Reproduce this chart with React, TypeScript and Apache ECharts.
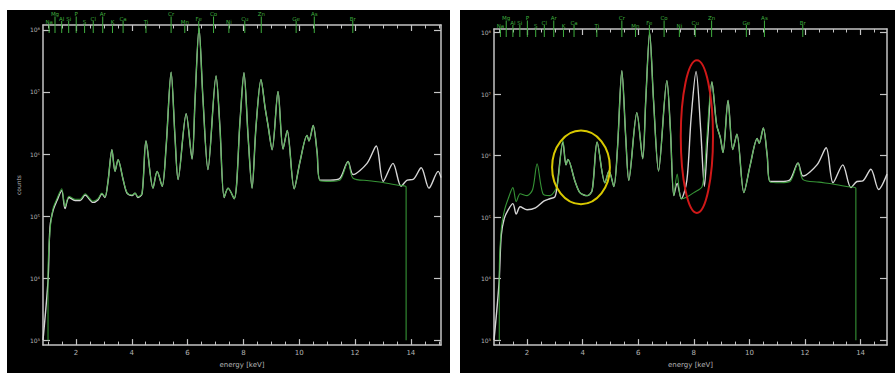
import React, { useEffect, useRef } from 'react';
import * as echarts from 'echarts';

// ---------- data (energy keV, log10 counts) ----------
const elementNames = ['Na','Mg','Al','Si','P','S','Cl','Ar','K','Ca','Ti','Cr','Mn','Fe','Co','Ni','Cu','Zn','Ge','As','Br'];
const elementEnergies = [1.04,1.25,1.49,1.74,2.01,2.31,2.62,2.96,3.31,3.69,4.51,5.41,5.90,6.40,6.93,7.48,8.05,8.64,9.89,10.54,11.92];
const elementLevels = [2,0,1,1,0,2,1,0,2,1,2,0,2,1,0,2,1,0,1,0,1];

const xMajorTicks = [2,4,6,8,10,12,14];
const xMinorTicks = [1,1.5,2.5,3,3.5,4.5,5,5.5,6.5,7,7.5,8.5,9,9.5,10.5,11,11.5,12.5,13,13.5,14.5,15];
const yDecades = [3,4,5,6,7,8];
const supDigits = ['⁰','¹','²','³','⁴','⁵','⁶','⁷','⁸','⁹'];

const leftMeasured: number[][] = [
  [0.82,3.0],[1.0,3.96],[1.07,4.82],[1.18,5.09],[1.32,5.25],[1.49,5.41],[1.61,5.12],[1.75,5.30],[1.97,5.25],[2.15,5.25],[2.33,5.34],[2.61,5.22],[2.79,5.26],[2.93,5.36],[3.04,5.30],[3.15,5.56],[3.29,6.07],[3.40,5.72],[3.51,5.91],[3.69,5.59],[3.83,5.37],[4.01,5.33],[4.12,5.37],[4.22,5.30],[4.37,5.36],[4.51,6.21],[4.76,5.45],[4.91,5.72],[5.09,5.48],[5.23,6.11],[5.41,7.32],[5.55,6.27],[5.66,5.59],[5.95,6.65],[6.16,5.92],[6.27,6.90],[6.41,8.03],[6.55,6.90],[6.73,5.75],[7.02,7.26],[7.16,6.43],[7.31,5.30],[7.45,5.45],[7.67,5.28],[7.88,6.54],[8.02,7.31],[8.17,6.27],[8.31,5.45],[8.45,6.43],[8.63,7.20],[8.78,6.74],[8.88,6.47],[9.03,6.07],[9.24,7.01],[9.42,6.08],[9.57,6.38],[9.82,5.44],[10.03,5.88],[10.28,6.30],[10.35,6.21],[10.50,6.46],[10.64,6.03],[10.75,5.58],[11.11,5.58],[11.46,5.61],[11.75,5.88],[11.93,5.67],[12.43,5.85],[12.76,6.13],[13.01,5.56],[13.36,5.85],[13.65,5.48],[13.87,5.58],[14.08,5.59],[14.37,5.78],[14.65,5.45],[14.98,5.72],[15.08,5.62]
];
const leftFit: number[][] = [
  [1.0,3.0],[1.0,4.1],[1.07,4.75],[1.18,5.12],[1.32,5.28],[1.49,5.44],[1.61,5.15],[1.75,5.32],[1.97,5.27],[2.15,5.27],[2.33,5.36],[2.61,5.24],[2.79,5.28],[2.93,5.37],[3.04,5.31],[3.15,5.56],[3.29,6.07],[3.40,5.72],[3.51,5.91],[3.69,5.59],[3.83,5.38],[4.01,5.34],[4.12,5.37],[4.22,5.31],[4.37,5.37],[4.51,6.21],[4.76,5.45],[4.91,5.72],[5.09,5.48],[5.23,6.11],[5.41,7.32],[5.55,6.27],[5.66,5.59],[5.95,6.65],[6.16,5.92],[6.27,6.90],[6.41,8.03],[6.55,6.90],[6.73,5.75],[7.02,7.26],[7.16,6.43],[7.31,5.30],[7.45,5.45],[7.67,5.28],[7.88,6.54],[8.02,7.31],[8.17,6.27],[8.31,5.45],[8.45,6.43],[8.63,7.20],[8.78,6.74],[8.88,6.47],[9.03,6.07],[9.24,7.01],[9.42,6.08],[9.57,6.38],[9.82,5.44],[10.03,5.88],[10.28,6.30],[10.35,6.21],[10.50,6.46],[10.64,6.03],[10.75,5.57],[11.11,5.56],[11.46,5.58],[11.75,5.88],[11.93,5.61],[12.5,5.57],[13.0,5.54],[13.5,5.50],[13.83,5.47],[13.83,3.0]
];
const rightMeasured: number[][] = [
  [0.81,3.0],[0.99,3.92],[1.07,4.7],[1.18,4.98],[1.32,5.12],[1.49,5.22],[1.61,5.05],[1.75,5.17],[2.0,5.12],[2.3,5.15],[2.6,5.26],[2.82,5.30],[3.0,5.33],[3.08,5.5],[3.29,6.22],[3.40,5.85],[3.47,5.94],[3.72,5.59],[3.90,5.40],[4.16,5.35],[4.34,5.43],[4.52,6.22],[4.80,5.56],[4.95,5.75],[5.12,5.50],[5.25,6.1],[5.41,7.38],[5.55,6.3],[5.66,5.6],[5.95,6.7],[6.16,5.95],[6.27,6.9],[6.41,8.0],[6.55,6.9],[6.73,5.75],[7.03,7.22],[7.16,6.4],[7.28,5.35],[7.40,5.55],[7.55,5.3],[7.75,5.6],[7.9,6.6],[8.08,7.37],[8.25,6.4],[8.38,5.5],[8.5,6.3],[8.65,7.2],[8.82,6.5],[8.95,6.3],[9.05,6.05],[9.23,6.9],[9.4,6.1],[9.55,6.35],[9.8,5.4],[10.03,5.85],[10.28,6.28],[10.35,6.2],[10.5,6.45],[10.64,6.0],[10.75,5.58],[11.11,5.58],[11.46,5.61],[11.75,5.88],[11.93,5.67],[12.43,5.85],[12.76,6.13],[13.01,5.56],[13.36,5.85],[13.65,5.48],[13.87,5.58],[14.08,5.59],[14.37,5.78],[14.65,5.45],[14.95,5.7]
];
const rightFit: number[][] = [
  [1.0,3.0],[1.0,4.1],[1.07,4.8],[1.18,5.1],[1.32,5.3],[1.49,5.48],[1.61,5.25],[1.75,5.38],[2.0,5.35],[2.2,5.45],[2.36,5.87],[2.57,5.38],[2.82,5.35],[3.0,5.43],[3.1,5.55],[3.29,6.25],[3.40,5.85],[3.47,5.94],[3.72,5.59],[3.90,5.40],[4.16,5.35],[4.34,5.43],[4.52,6.22],[4.80,5.56],[4.95,5.75],[5.12,5.50],[5.25,6.1],[5.41,7.38],[5.55,6.3],[5.66,5.6],[5.95,6.7],[6.16,5.95],[6.27,6.9],[6.41,8.0],[6.55,6.9],[6.73,5.75],[7.03,7.22],[7.16,6.4],[7.28,5.35],[7.40,5.70],[7.55,5.3],[7.75,5.33],[8.0,5.40],[8.3,5.5],[8.45,6.2],[8.65,7.2],[8.82,6.5],[8.95,6.3],[9.05,6.05],[9.23,6.9],[9.4,6.1],[9.55,6.35],[9.8,5.4],[10.03,5.85],[10.28,6.28],[10.35,6.2],[10.5,6.45],[10.64,6.0],[10.75,5.57],[11.11,5.56],[11.46,5.58],[11.75,5.88],[11.93,5.61],[12.5,5.57],[13.0,5.54],[13.5,5.50],[13.83,5.47],[13.83,3.0]
];
// annotation ellipses on the right panel: [centre keV, centre log, half-width keV, half-height decades]
const yellowRing = [3.94, 5.81, 1.04, 0.60];
const redRing = [8.11, 6.31, 0.58, 1.24];

const panels = [
  { left: 43, top: 25, width: 398, height: 328, xMin: 0.82, xMax: 15.08, yMin: 2.92, yMax: 8.08 },
  { left: 494, top: 29, width: 393, height: 324, xMin: 0.81, xMax: 14.95, yMin: 2.92, yMax: 8.06 },
];

const AXIS = '#c4c4c4';
const LABEL = '#b4b4b4';
const GREEN = '#3fae3f';
const WHITE = '#d6d6d6';
const FONT = 'DejaVu Sans';
const LEVEL_OFFSET = [11, 6.5, 3];

export default function App() {
  const ref = useRef<HTMLDivElement>(null);
  useEffect(() => {
    if (!ref.current) return;
    const chart = echarts.init(ref.current, undefined, { renderer: 'svg' });
    const grid: any[] = [];
    const xAxis: any[] = [];
    const yAxis: any[] = [];
    const series: any[] = [];
    panels.forEach((p, g) => {
      grid.push({ left: p.left, top: p.top, width: p.width, height: p.height, containLabel: false });
      const xBase = { type: 'value', gridIndex: g, min: p.xMin, max: p.xMax, splitLine: { show: false } };
      xAxis.push({ ...xBase, position: 'bottom', axisLine: { show: true, lineStyle: { color: AXIS, width: 1.5 } },
        axisTick: { show: true, inside: true, length: 6, customValues: xMajorTicks, lineStyle: { color: AXIS, width: 1.2 } },
        axisLabel: { show: true, customValues: xMajorTicks, color: LABEL, fontSize: 7, fontFamily: FONT, margin: 4 },
        name: 'energy [keV]', nameLocation: 'middle', nameGap: 13, nameTextStyle: { color: LABEL, fontSize: 7, fontFamily: FONT } });
      xAxis.push({ ...xBase, position: 'bottom', axisLine: { show: false },
        axisTick: { show: true, inside: true, length: 3.5, customValues: xMinorTicks, lineStyle: { color: AXIS, width: 1 } },
        axisLabel: { show: false } });
      xAxis.push({ ...xBase, position: 'top', axisLine: { show: true, lineStyle: { color: AXIS, width: 1.5 } },
        axisTick: { show: true, inside: true, length: 6, customValues: xMajorTicks, lineStyle: { color: AXIS, width: 1.2 } },
        axisLabel: { show: false } });
      xAxis.push({ ...xBase, position: 'top', axisLine: { show: false },
        axisTick: { show: true, inside: true, length: 3.5, customValues: xMinorTicks, lineStyle: { color: AXIS, width: 1 } },
        axisLabel: { show: false } });
      const yBase = { type: 'value', gridIndex: g, min: p.yMin, max: p.yMax, splitLine: { show: false } };
      yAxis.push({ ...yBase, position: 'left', axisLine: { show: true, lineStyle: { color: AXIS, width: 1.5 } },
        axisTick: { show: true, inside: true, length: 7, customValues: yDecades, lineStyle: { color: AXIS, width: 1.2 } },
        axisLabel: { show: true, customValues: yDecades, color: LABEL, fontSize: 6, fontFamily: FONT, margin: 3,
          formatter: (v: number) => '10' + supDigits[Math.round(v)] },
        name: g === 0 ? 'counts' : '', nameLocation: 'middle', nameGap: 22, nameRotate: 90,
        nameTextStyle: { color: LABEL, fontSize: 6, fontFamily: FONT } });
      yAxis.push({ ...yBase, position: 'right', axisLine: { show: true, lineStyle: { color: AXIS, width: 1.5 } },
        axisTick: { show: true, inside: true, length: 7, customValues: yDecades, lineStyle: { color: AXIS, width: 1.2 } },
        axisLabel: { show: false } });
      const xi = g * 4, yi = g * 2;
      const meas = g === 0 ? leftMeasured : rightMeasured;
      const fit = g === 0 ? leftFit : rightFit;
      series.push({ type: 'line', xAxisIndex: xi, yAxisIndex: yi, data: meas, showSymbol: false, smooth: 0.3,
        lineStyle: { color: WHITE, width: 1.4 }, z: 3 });
      series.push({ type: 'line', xAxisIndex: xi, yAxisIndex: yi, data: fit, showSymbol: false, smooth: 0.3,
        lineStyle: { color: GREEN, width: 1.1, opacity: 0.85 }, z: 4 });
      series.push({
        type: 'custom', xAxisIndex: xi, yAxisIndex: yi, clip: false, z: 5,
        data: elementEnergies.map((e, i) => [e, elementLevels[i]]),
        renderItem: (params: any, api: any) => {
          const x = api.coord([api.value(0), p.yMax])[0];
          const top = params.coordSys.y;
          const lvl = api.value(1);
          const ty = top - LEVEL_OFFSET[lvl];
          return {
            type: 'group',
            children: [
              { type: 'line', shape: { x1: x, y1: ty + 2.5, x2: x, y2: top + 8 }, style: { stroke: GREEN, lineWidth: 1 } },
              { type: 'text', x, y: ty, style: { text: elementNames[params.dataIndex], fill: GREEN, font: `5.5px "${FONT}"`, align: 'center', verticalAlign: 'middle' } },
            ],
          };
        },
      });
    });
    chart.setOption({ animation: false, backgroundColor: 'transparent', grid, xAxis, yAxis, series });
    const ring = (r: number[], color: string) => {
      const c = chart.convertToPixel({ gridIndex: 1 }, [r[0], r[1]]) as number[];
      const e = chart.convertToPixel({ gridIndex: 1 }, [r[0] + r[2], r[1] + r[3]]) as number[];
      return { type: 'ellipse', shape: { cx: c[0], cy: c[1], rx: Math.abs(e[0] - c[0]), ry: Math.abs(c[1] - e[1]) },
        style: { fill: 'none', stroke: color, lineWidth: 2 }, z: 10 };
    };
    chart.setOption({ graphic: [ring(yellowRing, '#d8c800'), ring(redRing, '#d01818')] });
    return () => chart.dispose();
  }, []);
  return (
    <div style={{ position: 'absolute', left: 0, top: 0, width: 895, height: 373, background: '#fff' }}>
      <div style={{ position: 'absolute', left: 7, top: 10, width: 443, height: 363, background: '#000' }} />
      <div style={{ position: 'absolute', left: 460, top: 10, width: 435, height: 363, background: '#000' }} />
      <div ref={ref} style={{ position: 'absolute', left: 0, top: 0, width: 895, height: 373 }} />
    </div>
  );
}
